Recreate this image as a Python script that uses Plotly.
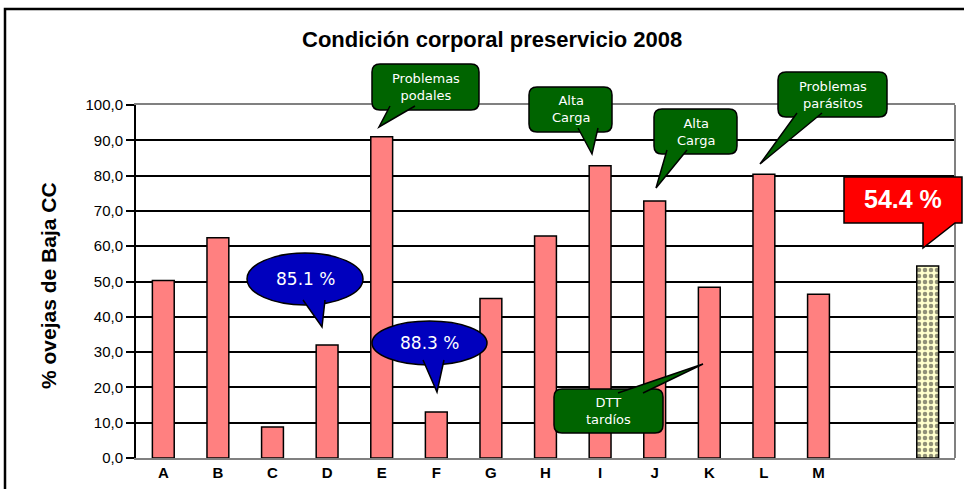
import plotly.graph_objects as go

# ---------------- data ----------------
farms = ["A", "B", "C", "D", "E", "F", "G", "H", "I", "J", "K", "L", "M"]
pct_low_cc = [50.3, 62.4, 8.8, 32.0, 91.0, 13.0, 45.2, 62.9, 82.8, 72.8, 48.4, 80.4, 46.4]
blank_cats = [" ", "  "]
avg_cat = ["  "]
avg_value = [54.4]
y_ticks = [0, 10, 20, 30, 40, 50, 60, 70, 80, 90, 100]

categories = farms + blank_cats

# ---------------- geometry helpers (pixel -> paper) ----------------
W, H = 964, 489
L, R, T, B = 136, 955, 105, 458


def px(x):
    return (x - L) / (R - L)


def py(y):
    return (B - y) / (B - T)


def pt(x, y):
    return f"{px(x):.5f},{py(y):.5f}"


def rrect_path(x0, y0, x1, y1, r):
    return (f"M {pt(x0 + r, y0)} L {pt(x1 - r, y0)} Q {pt(x1, y0)} {pt(x1, y0 + r)} "
            f"L {pt(x1, y1 - r)} Q {pt(x1, y1)} {pt(x1 - r, y1)} "
            f"L {pt(x0 + r, y1)} Q {pt(x0, y1)} {pt(x0, y1 - r)} "
            f"L {pt(x0, y0 + r)} Q {pt(x0, y0)} {pt(x0 + r, y0)} Z")


def tail_path(b1, tip, b2):
    return f"M {pt(*b1)} L {pt(*tip)} L {pt(*b2)}"


fig = go.Figure()

fig.add_trace(go.Bar(
    x=farms, y=pct_low_cc,
    marker=dict(color="#FF8080", line=dict(color="black", width=1.5)),
    hoverinfo="x+y",
))
fig.add_trace(go.Bar(
    x=avg_cat, y=avg_value,
    marker=dict(color="#FFFFCC", line=dict(color="black", width=1.5),
                pattern=dict(shape=".", fgcolor="#222222", bgcolor="#FFFFCC",
                             size=6, solidity=0.45)),
    hoverinfo="y",
))

shapes = []
annotations = []

GREEN = "#006400"
BLUE = "#0000BE"
RED = "#FF0000"
OUT = dict(color="black", width=1.5)

# outer chart-area frame
shapes.append(dict(type="rect", xref="paper", yref="paper",
                   x0=px(5), y0=py(9), x1=px(975), y1=py(500),
                   line=dict(color="black", width=2.5), fillcolor="rgba(0,0,0,0)",
                   layer="below"))
# right border of plot area (grey)
shapes.append(dict(type="line", xref="paper", yref="paper",
                   x0=1, x1=1, y0=0, y1=1, line=dict(color="#808080", width=2),
                   layer="above"))


def green_box(box, b1, tip, b2, text):
    x0, y0, x1, y1 = box
    shapes.append(dict(type="path", xref="paper", yref="paper",
                       path=rrect_path(x0, y0, x1, y1, 8),
                       fillcolor=GREEN, line=OUT, layer="above"))
    shapes.append(dict(type="path", xref="paper", yref="paper",
                       path=tail_path(b1, tip, b2),
                       fillcolor=GREEN, line=OUT, layer="above"))
    annotations.append(dict(xref="paper", yref="paper", x=px((x0 + x1) / 2),
                            y=py((y0 + y1) / 2), text=text, showarrow=False,
                            xanchor="center", yanchor="middle",
                            font=dict(family="DejaVu Sans", size=13, color="white")))


def blue_ellipse(box, b1, tip, b2, text):
    x0, y0, x1, y1 = box
    shapes.append(dict(type="circle", xref="paper", yref="paper",
                       x0=px(x0), x1=px(x1), y0=py(y1), y1=py(y0),
                       fillcolor=BLUE, line=OUT, layer="above"))
    shapes.append(dict(type="path", xref="paper", yref="paper",
                       path=tail_path(b1, tip, b2),
                       fillcolor=BLUE, line=OUT, layer="above"))
    annotations.append(dict(xref="paper", yref="paper", x=px((x0 + x1) / 2),
                            y=py((y0 + y1) / 2), text=text, showarrow=False,
                            xanchor="center", yanchor="middle",
                            font=dict(family="DejaVu Sans", size=17, color="white")))


green_box((372, 64, 479, 110), (390, 106), (379, 127), (415, 106), "Problemas<br>podales")
green_box((529, 87, 612, 132), (578, 128), (592, 154), (598, 128), "Alta<br>Carga")
green_box((654, 109, 737, 154), (667, 150), (656, 188), (687, 150), "Alta<br>Carga")
green_box((778, 72, 887, 117), (797, 113), (760, 164), (822, 113), "Problemas<br>parásitos")
green_box((554, 389, 663, 433), (618, 393), (703, 364), (643, 393), "DTT<br>tardíos")

blue_ellipse((247, 253, 363, 305), (303, 300), (322, 327), (325, 300), "85.1 %")
blue_ellipse((372, 321, 487, 365), (423, 360), (437, 392), (444, 360), "88.3 %")

# red callout for the average
shapes.append(dict(type="path", xref="paper", yref="paper",
                   path=f"M {pt(844,177)} L {pt(962,177)} L {pt(962,223)} L {pt(955,223)} "
                        f"L {pt(923,248)} L {pt(923,223)} L {pt(844,223)} Z",
                   fillcolor=RED, line=OUT, layer="above"))
annotations.append(dict(xref="paper", yref="paper", x=px(903), y=py(199),
                        text="<b>54.4 %</b>", showarrow=False,
                        xanchor="center", yanchor="middle",
                        font=dict(family="Liberation Sans", size=25, color="white")))

# title and y-axis title
annotations.append(dict(xref="paper", yref="paper", x=px(492), y=py(40),
                        text="<b>Condición corporal preservicio 2008</b>", showarrow=False,
                        xanchor="center", yanchor="middle",
                        font=dict(family="Liberation Sans", size=22, color="black")))
annotations.append(dict(xref="paper", yref="paper", x=px(48), y=py(286),
                        text="<b>% ovejas de Baja CC</b>", showarrow=False, textangle=-90,
                        xanchor="center", yanchor="middle",
                        font=dict(family="Liberation Sans", size=21, color="black")))

fig.update_layout(
    width=W, height=H,
    margin=dict(l=L, r=W - R, t=T, b=H - B),
    paper_bgcolor="white", plot_bgcolor="white",
    barmode="overlay", bargap=0.6,
    showlegend=False,
    separators=",.",
    shapes=shapes, annotations=annotations,
    xaxis=dict(type="category", categoryorder="array", categoryarray=categories,
               range=[-0.5, len(categories) - 0.5],
               showline=True, linecolor="#808080", linewidth=2, mirror=True,
               showgrid=False, ticks="",
               tickfont=dict(family="Liberation Sans", size=15, color="black", weight="bold")),
    yaxis=dict(range=[0, 100], tickvals=y_ticks, tickformat=".1f",
               showgrid=True, gridcolor="black", gridwidth=1.5, zeroline=False,
               showline=True, linecolor="black", linewidth=2,
               ticks="outside", ticklen=8, tickwidth=1.5, tickcolor="black",
               tickfont=dict(family="Liberation Sans", size=15, color="black")),
)

fig.write_html("out.html", config={"displayModeBar": False},
               post_script="document.body.style.margin='0px';document.body.style.overflow='hidden';")
